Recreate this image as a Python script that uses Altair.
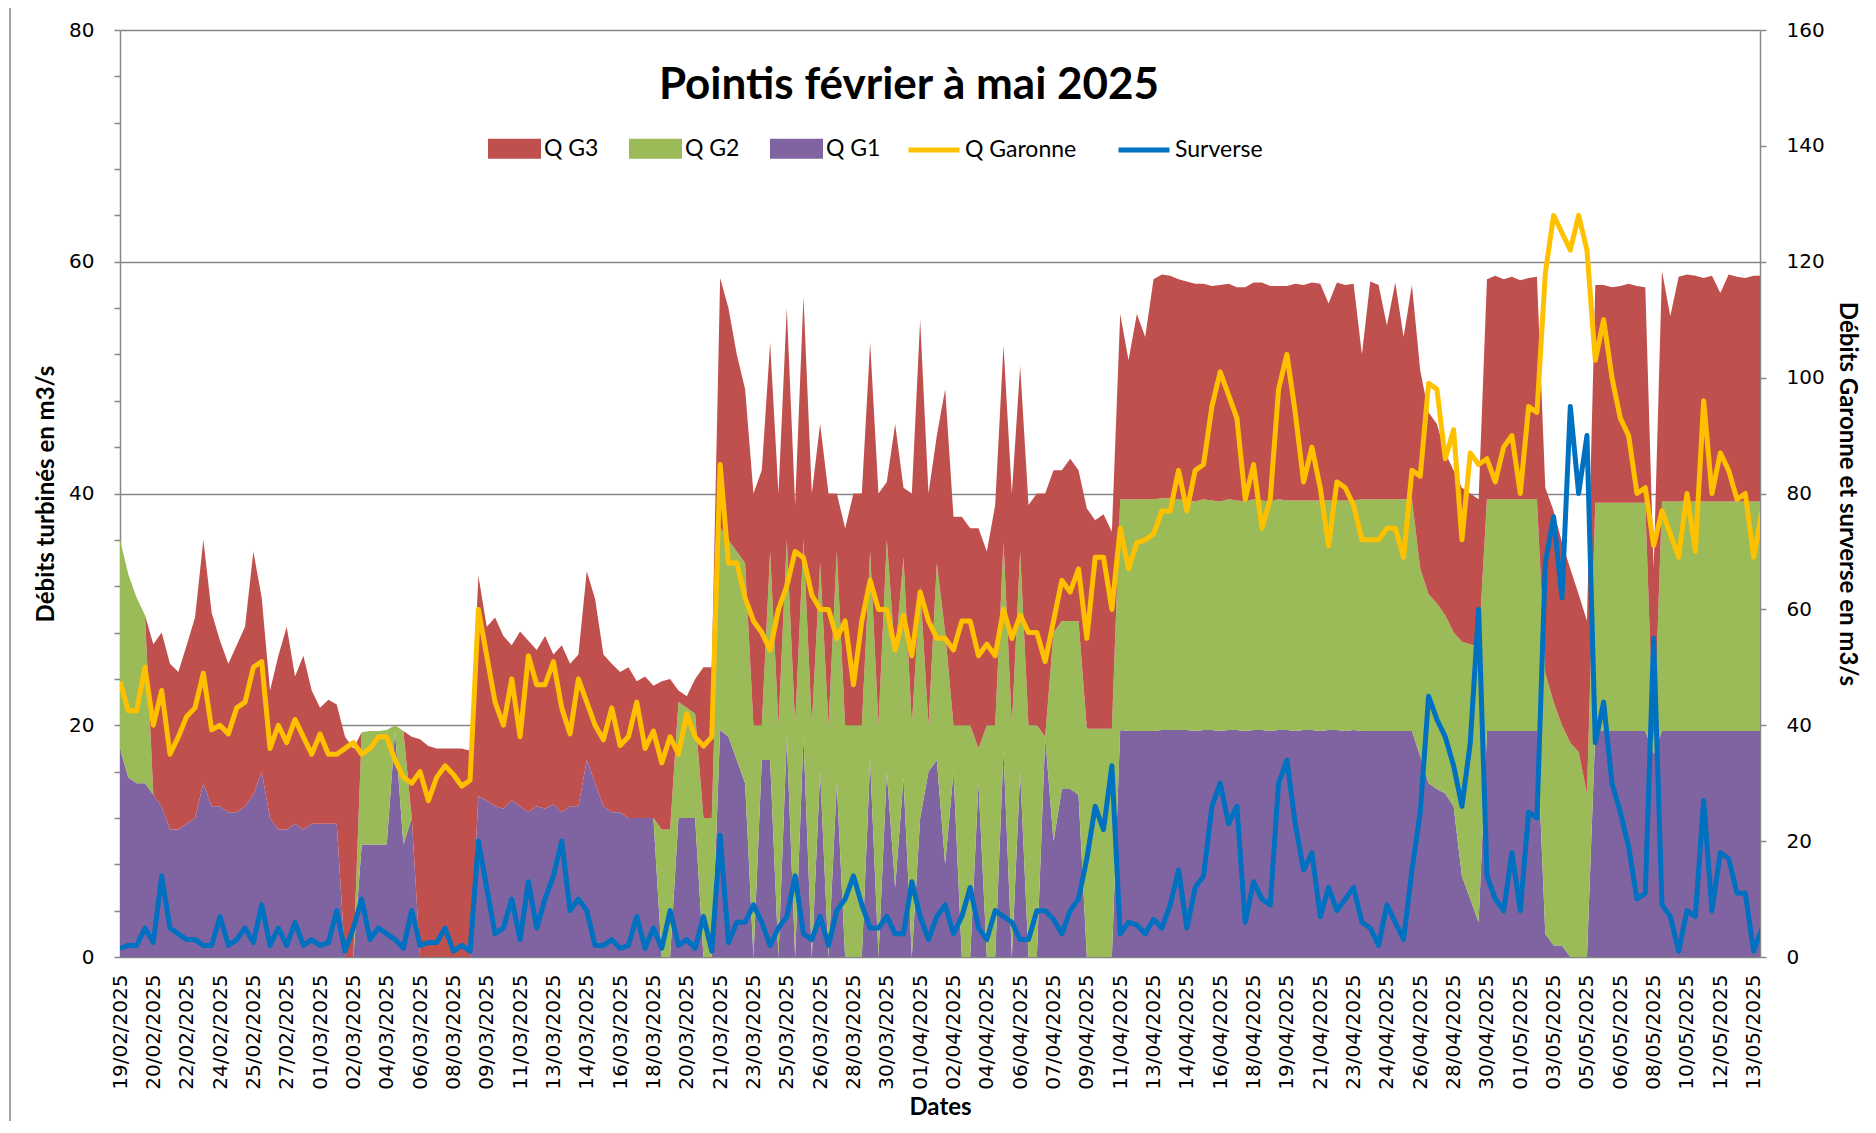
import altair as alt
import pandas as pd

TITLE = "Pointis février à mai 2025"

DATE_LABELS = [
    "19/02/2025", "20/02/2025", "22/02/2025", "24/02/2025", "25/02/2025", "27/02/2025",
    "01/03/2025", "02/03/2025", "04/03/2025", "06/03/2025", "08/03/2025", "09/03/2025", "11/03/2025",
    "13/03/2025", "14/03/2025", "16/03/2025", "18/03/2025", "20/03/2025", "21/03/2025", "23/03/2025",
    "25/03/2025", "26/03/2025", "28/03/2025", "30/03/2025", "01/04/2025", "02/04/2025", "04/04/2025",
    "06/04/2025", "07/04/2025", "09/04/2025", "11/04/2025", "13/04/2025", "14/04/2025", "16/04/2025",
    "18/04/2025", "19/04/2025", "21/04/2025", "23/04/2025", "24/04/2025", "26/04/2025", "28/04/2025",
    "30/04/2025", "01/05/2025", "03/05/2025", "05/05/2025", "06/05/2025", "08/05/2025", "10/05/2025",
    "12/05/2025", "13/05/2025",
]

# samples every quarter of a date-label interval
STEP = 0.25

Q_G1 = [
    18, 15.5, 15, 15, 14, 13, 11, 11, 11.5, 12,
    15, 13, 13, 12.5, 12.5, 13, 14, 16, 12, 11,
    11, 11.5, 11, 11.5, 11.5, 11.5, 11.5, 0, 0, 9.7,
    9.7, 9.7, 9.7, 19.5, 9.7, 12, 0, 0, 0, 0,
    0, 0, 0, 13.9, 13.5, 13, 12.8, 13.5, 13, 12.5,
    13, 12.8, 13.2, 12.5, 13, 13, 17, 15, 13, 12.5,
    12.5, 12, 12, 12, 12, 0, 0, 12, 12, 12,
    0, 0, 19.6, 19, 17, 15, 0, 17, 17, 0,
    19, 0, 19, 0, 16, 0, 15, 0, 0, 0,
    17, 0, 16, 6, 15.5, 0, 12, 16, 17, 8,
    16, 0, 0, 15, 0, 0, 17.8, 0, 16, 0,
    0, 19, 10, 14.5, 14.5, 14, 0, 0, 0, 0,
    19.6, 19.5, 19.5, 19.5, 19.5, 19.6, 19.6, 19.6, 19.6, 19.5,
    19.6, 19.6, 19.5, 19.6, 19.6, 19.5, 19.6, 19.6, 19.5, 19.6,
    19.6, 19.5, 19.6, 19.6, 19.5, 19.6, 19.6, 19.5, 19.6, 19.5,
    19.5, 19.5, 19.5, 19.5, 19.5, 19.5, 17.3, 15, 14.5, 14.1,
    13, 7, 5, 3, 19.5, 19.5, 19.5, 19.5, 19.5, 19.5,
    19.5, 2, 1, 1, 0, 0, 0, 19.5, 19.5, 19.5,
    19.5, 19.5, 19.5, 19.5, 17.5, 19.5, 19.5, 19.5, 19.5, 19.5,
    19.5, 19.5, 19.5, 19.5, 19.5, 19.5, 19.5, 19.5,
]

Q_G2 = [
    18, 17.5, 16, 14.5, 0, 0, 0, 0, 0, 0,
    0, 0, 0, 0, 0, 0, 0, 0, 0, 0,
    0, 0, 0, 0, 0, 0, 0, 0, 0, 9.7,
    9.8, 9.8, 9.9, 0.5, 9.8, 0, 0, 0, 0, 0,
    0, 0, 0, 0, 0, 0, 0, 0, 0, 0,
    0, 0, 0, 0, 0, 0, 0, 0, 0, 0,
    0, 0, 0, 0, 0, 11, 11, 10, 9.5, 9,
    12, 12, 17.5, 17, 18, 19, 20, 3, 18, 20,
    17, 20, 17, 20, 18, 20, 20, 20, 20, 20,
    18, 20, 20, 20, 19, 20, 20, 4, 17, 20,
    4, 20, 20, 3, 20, 20, 18, 20, 19, 20,
    20, 0, 18, 14.5, 14.5, 15, 19.7, 19.7, 19.7, 19.7,
    19.9, 20, 20, 20, 20, 20, 20, 19.9, 19.8, 19.8,
    19.9, 19.8, 19.8, 19.9, 19.8, 19.8, 19.9, 19.8, 19.8, 19.9,
    19.8, 19.9, 19.8, 19.8, 19.9, 19.8, 19.8, 19.9, 19.8, 20,
    20, 20, 20, 20, 20, 20, 16.2, 16.3, 16, 15.4,
    15, 20.2, 22, 23.7, 20, 20, 20, 20, 20, 20,
    20, 22.5, 21, 19, 18.5, 17.7, 14.1, 19.7, 19.7, 19.7,
    19.7, 19.7, 19.7, 19.7, 0.5, 19.8, 19.8, 19.8, 19.8, 19.8,
    19.8, 19.8, 19.8, 19.8, 19.8, 19.8, 19.8, 19.8,
]

Q_G3 = [
    0, 0, 0, 0, 13, 15, 14.3, 13.6, 15.4, 17.3,
    21, 16.7, 14.3, 12.8, 14.4, 15.5, 21, 15, 11, 15,
    17.5, 12.7, 15, 11.5, 10, 10.7, 10.3, 19, 18, 0,
    0, 0, 0, 0, 0, 7, 18.8, 18.2, 18, 18,
    18, 18, 17.8, 19, 15, 16.3, 14.9, 13.4, 15.1, 14.8,
    13.5, 14.9, 12.9, 14.4, 12.3, 13.1, 16.3, 15.9, 13.1, 12.8,
    12.1, 13, 11.8, 12.2, 11.4, 12.8, 13, 1, 1, 3,
    13, 13, 21.5, 20, 17, 15, 20, 22, 18, 20,
    20, 19, 21, 20, 12, 20, 5, 17, 20, 20,
    18, 20, 5, 20, 6, 20, 23, 20, 11, 21,
    18, 18, 17, 19, 15, 19, 17, 20, 16, 19,
    20, 21, 14, 13, 14, 13, 19, 18, 18.5, 17,
    16, 12, 16, 14, 19, 19.3, 19.2, 19, 18.9, 18.8,
    18.6, 18.5, 18.7, 18.6, 18.4, 18.5, 18.7, 18.8, 18.6, 18.4,
    18.5, 18.7, 18.6, 18.8, 18.7, 17, 18.8, 18.6, 18.7, 12.5,
    18.8, 18.5, 15, 18.7, 14, 18.5, 17.1, 15.7, 15.5, 14,
    14, 13.3, 13, 12.8, 19, 19.3, 19.0, 19.2, 18.9, 19.1,
    19.2, 16, 16.5, 15.8, 15, 13.6, 14.9, 18.8, 18.8, 18.6,
    18.7, 18.9, 18.7, 18.6, 15.5, 19.9, 16, 19.4, 19.6, 19.5,
    19.3, 19.5, 18, 19.6, 19.4, 19.3, 19.5, 19.5,
]

Q_GARONNE = [
    47.5, 42.5, 42.5, 50, 40, 46, 35, 38, 41.5, 43,
    49, 39.2, 40, 38.5, 43, 44, 50, 51, 36, 40,
    37, 41, 38, 35, 38.5, 35, 35, 36, 37, 35,
    36, 38, 38, 34, 31, 30, 32, 27, 31, 33,
    31.5, 29.5, 30.5, 60, 52, 44, 40, 48, 38, 52,
    47, 47, 51, 43, 38.5, 48, 44, 40, 37.5, 43,
    36.5, 38, 44, 36, 39, 33.5, 38, 35, 42, 38,
    36.4, 38, 85, 68, 68, 62, 58, 56, 53, 60,
    64, 70, 68.9, 62.5, 60, 60, 55, 58, 47, 58,
    65, 60, 60, 53, 59, 52, 63, 58, 55, 55,
    53, 58, 58, 52, 54, 52, 60, 55, 59, 56,
    56, 51, 58, 65, 63, 67, 55, 69, 69, 60,
    74, 67, 71.5, 72, 73, 77, 77, 84, 77, 84,
    85, 95, 101, 97, 93, 79, 85, 74, 79, 98,
    104, 94, 82, 88, 81, 71, 82, 81, 78, 72,
    72, 72, 74, 74, 69, 84, 83, 99, 98, 86,
    91, 72, 87, 85, 86, 82, 88, 90, 80, 95,
    94, 118, 128, 125, 122, 128, 122, 103, 110, 100,
    93, 90, 80, 81, 71, 77, 73, 69, 80, 70,
    96, 80, 87, 84, 79, 80, 69, 77,
]

SURVERSE = [
    1.5, 2, 2, 5, 2.5, 14, 5, 4, 3, 3,
    2, 2, 7, 2, 3, 5, 2.5, 9, 2, 5,
    2, 6, 2, 3, 2, 2.5, 8, 1, 5, 10,
    3, 5, 4, 3, 1.5, 8, 2, 2.5, 2.5, 5,
    1, 2, 1, 20, 12, 4, 5, 10, 3, 13,
    5, 10, 14, 20, 8, 10, 8, 2, 2, 3,
    1.5, 2, 7, 1.5, 5, 1.5, 8, 2, 3, 1.5,
    7, 1, 21, 2.5, 6, 6, 9, 6, 2, 5,
    7, 14, 4, 3, 7, 2, 8, 10, 14, 9,
    5, 5, 7, 4, 4, 13, 7, 3, 7, 9,
    4, 7, 12, 5, 3, 8, 7, 6, 3, 3,
    8, 8, 6.5, 4, 8, 10, 17, 26, 22, 33,
    4, 6, 5.5, 4, 6.5, 5, 9, 15, 5, 12,
    14, 26, 30, 23, 26, 6, 13, 10, 9, 30,
    34, 23, 15, 18, 7, 12, 8, 10, 12, 6,
    5, 2, 9, 6, 3, 15, 25, 45, 41, 38,
    33, 26, 37, 60, 14, 10, 8, 18, 8, 25,
    24, 68, 76, 62, 95, 80, 90, 37, 44, 30,
    25, 19, 10, 11, 55, 9, 7, 1, 8, 7,
    27, 8, 18, 17, 11, 11, 1, 5,
]

AREA_SERIES = ["Q G3", "Q G2", "Q G1"]
AREA_COLORS = ["#C0504D", "#9BBB59", "#8064A2"]
LINE_SERIES = ["Q Garonne", "Surverse"]
LINE_COLORS = ["#FFC000", "#0070C0"]

n = len(Q_G1)
assert all(len(s) == n for s in [Q_G2, Q_G3, Q_GARONNE, SURVERSE])
pos = [i * STEP for i in range(n)]

area_rows = []
for order, (name, vals) in enumerate([("Q G1", Q_G1), ("Q G2", Q_G2), ("Q G3", Q_G3)]):
    for p, v in zip(pos, vals):
        area_rows.append({"pos": p, "serie": name, "v": v, "ord": order})
area_df = pd.DataFrame(area_rows)

line_rows = []
for name, vals in [("Q Garonne", Q_GARONNE), ("Surverse", SURVERSE)]:
    for p, v in zip(pos, vals):
        line_rows.append({"pos": p, "serie": name, "w": v})
line_df = pd.DataFrame(line_rows)

label_expr = "[" + ",".join("'%s'" % s for s in DATE_LABELS) + "][round(datum.value)]"

W, H = 1640, 927
X_MAX = 49.19

x_axis = alt.Axis(
    values=list(range(len(DATE_LABELS))), labelExpr=label_expr, labelAngle=-90,
    title="Dates", ticks=False, tickSize=0, labelPadding=17, titlePadding=6, grid=False,
    labelOverlap=False, labelFlush=False, labelBound=False,
)
x_enc = alt.X("pos:Q", scale=alt.Scale(domain=[0, X_MAX], nice=False, zero=False), axis=x_axis)

areas = alt.Chart(area_df).mark_area(clip=True, interpolate="linear").encode(
    x=x_enc,
    y=alt.Y(
        "v:Q", stack="zero",
        scale=alt.Scale(domain=[0, 80], nice=False),
        axis=alt.Axis(
            orient="left", values=list(range(0, 81, 4)),
            labelExpr="datum.value % 20 == 0 ? datum.label : ''",
            title="Débits turbinés en m3/s", grid=True,
            gridOpacity={"condition": {"test": "datum.value % 20 == 0 && datum.value > 0", "value": 1}, "value": 0},
            tickSize=6, labelPadding=20, titlePadding=10,
        ),
    ),
    color=alt.Color(
        "serie:N",
        scale=alt.Scale(domain=AREA_SERIES, range=AREA_COLORS),
        legend=alt.Legend(
            orient="none", legendX=368, legendY=92, direction="horizontal", title=None,
            symbolType="M-1,-0.377L1,-0.377L1,0.377L-1,0.377Z", symbolSize=2809,
            symbolStrokeWidth=0, symbolOpacity=1, labelOffset=3, columnPadding=30,
        ),
    ),
    order=alt.Order("ord:Q", sort="ascending"),
)

lines = alt.Chart(line_df).mark_line(clip=True, strokeWidth=5, strokeJoin="round").encode(
    x=x_enc,
    y=alt.Y(
        "w:Q",
        scale=alt.Scale(domain=[0, 160], nice=False),
        axis=alt.Axis(
            orient="right", values=list(range(0, 161, 20)),
            title="Débits Garonne et surverse en m3/s", grid=False,
            tickSize=6, labelPadding=20, titlePadding=10,
        ),
    ),
    stroke=alt.Stroke(
        "serie:N",
        scale=alt.Scale(domain=LINE_SERIES, range=LINE_COLORS),
        legend=alt.Legend(
            orient="none", legendX=786, legendY=92, direction="horizontal", title=None,
            symbolType="stroke", symbolSize=2601, symbolStrokeWidth=5,
            labelOffset=3, columnPadding=31,
        ),
    ),
)

one = pd.DataFrame({"k": [0]})
title_text = alt.Chart(one).mark_text(
    text=TITLE, font="Lato", fontSize=44, fontWeight="bold", color="#000000",
    align="center", baseline="middle",
).encode(x=alt.value(789), y=alt.value(56))

# chart-area frame: only its left and top edges fall inside the page
border = alt.Chart(one).mark_rect(
    fillOpacity=0, stroke="#868686", strokeWidth=1.5,
).encode(x=alt.value(-110), x2=alt.value(1770), y=alt.value(-25), y2=alt.value(1120))

chart = alt.layer(border, areas, lines, title_text).resolve_scale(
    y="independent"
).properties(
    width=W, height=H,
    padding={"left": 112, "top": 22, "right": 108, "bottom": 164},
    autosize=alt.AutoSizeParams(type="none"),
).configure_view(stroke=None).configure_axis(
    domainColor="#868686", domainWidth=1.5, tickColor="#868686", tickWidth=1.5,
    labelFont="DejaVu Sans", labelFontSize=20, labelColor="#000000",
    titleFont="Lato", titleFontSize=24, titleFontWeight="bold", titleColor="#000000",
    gridColor="#868686", gridWidth=1.5,
).configure_legend(
    padding=0, labelFont="Lato", labelFontSize=23, labelColor="#000000",
)

chart.save("out.html", embed_options={"renderer": "svg", "actions": False})
